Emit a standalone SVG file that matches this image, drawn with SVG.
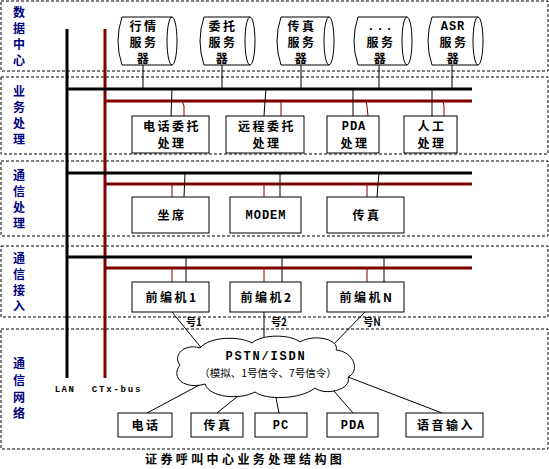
<svg xmlns="http://www.w3.org/2000/svg" width="549" height="469" viewBox="0 0 549 469">
<style>
.panel{fill:none;stroke:#000;stroke-width:1;stroke-dasharray:3 2}
.box{fill:#fff;stroke:#000;stroke-width:1}
.srv{fill:#fff;stroke:#000;stroke-width:1}
.t{font-family:"Noto Sans CJK SC","Liberation Sans",sans-serif;font-weight:bold;font-size:12px;fill:#000;text-anchor:middle;letter-spacing:2.5px}
.side{font-family:"Noto Sans CJK SC","Liberation Sans",sans-serif;font-weight:bold;font-size:12px;fill:#000080;text-anchor:middle}
.m{font-family:"Liberation Mono","Noto Sans CJK SC",monospace;font-weight:bold;font-size:12px;fill:#000;text-anchor:middle}
.s{font-family:"Noto Sans CJK SC","Liberation Sans",sans-serif;font-weight:bold;font-size:10px;fill:#000;text-anchor:middle}
.bk{stroke:#000;stroke-width:3;fill:none}
.rd{stroke:#800000;stroke-width:3;fill:none}
.th{stroke:#000;stroke-width:1;fill:none}
.tr{stroke:#800000;stroke-width:1;fill:none}
</style>

<g id="panels">
<rect class="panel" x="1" y="1" width="547" height="70"/>
<rect class="panel" x="1" y="77" width="547" height="77"/>
<rect class="panel" x="1" y="161" width="547" height="75"/>
<rect class="panel" x="1" y="246" width="547" height="71"/>
<rect class="panel" x="1" y="329" width="547" height="120"/>
</g>

<g id="side-labels">
<text class="side" x="19" y="17">数</text><text class="side" x="19" y="33">据</text><text class="side" x="19" y="49">中</text><text class="side" x="19" y="65">心</text>
<text class="side" x="19" y="96">业</text><text class="side" x="19" y="112">务</text><text class="side" x="19" y="128">处</text><text class="side" x="19" y="144">理</text>
<text class="side" x="19" y="180">通</text><text class="side" x="19" y="196">信</text><text class="side" x="19" y="212">处</text><text class="side" x="19" y="228">理</text>
<text class="side" x="19" y="263">通</text><text class="side" x="19" y="279">信</text><text class="side" x="19" y="295">接</text><text class="side" x="19" y="311">入</text>
<text class="side" x="19" y="368">通</text><text class="side" x="19" y="385">信</text><text class="side" x="19" y="402">网</text><text class="side" x="19" y="418">络</text>
</g>

<g id="connectors">
<line class="bk" x1="67" y1="29" x2="67" y2="378"/>
<line class="rd" x1="105" y1="29" x2="105" y2="378"/>
<line class="bk" x1="67" y1="89" x2="472" y2="89"/>
<line class="rd" x1="105" y1="101" x2="472" y2="101"/>
<line class="bk" x1="67" y1="173" x2="472" y2="173"/>
<line class="rd" x1="105" y1="184" x2="472" y2="184"/>
<line class="bk" x1="67" y1="257" x2="472" y2="257"/>
<line class="rd" x1="105" y1="268" x2="472" y2="268"/>
<line class="th" x1="143" y1="65" x2="143" y2="89"/>
<line class="th" x1="222" y1="65" x2="222" y2="89"/>
<line class="th" x1="301" y1="65" x2="301" y2="89"/>
<line class="th" x1="379" y1="65" x2="379" y2="89"/>
<line class="th" x1="452" y1="65" x2="452" y2="89"/>
<line class="th" x1="172" y1="89" x2="171" y2="116"/>
<polyline class="tr" points="182,101 184,106 184,116"/>
<polyline class="th" points="266,89 265,101 264,116"/>
<line class="tr" x1="281" y1="101" x2="281" y2="116"/>
<line class="th" x1="353" y1="89" x2="353" y2="116"/>
<polyline class="tr" points="366,101 367,106 368,116"/>
<line class="th" x1="432" y1="89" x2="432" y2="116"/>
<polyline class="tr" points="443,101 444,106 444,116"/>
<line class="th" x1="185" y1="173" x2="184" y2="197"/>
<line class="tr" x1="172" y1="184" x2="172" y2="197"/>
<line class="th" x1="280" y1="173" x2="280" y2="197"/>
<line class="tr" x1="264" y1="184" x2="264" y2="197"/>
<polyline class="th" points="379,173 378,184 377,197"/>
<line class="tr" x1="367" y1="184" x2="367" y2="197"/>
<line class="th" x1="186" y1="257" x2="186" y2="282"/>
<line class="tr" x1="172" y1="268" x2="172" y2="282"/>
<line class="th" x1="282" y1="257" x2="282" y2="282"/>
<line class="tr" x1="264" y1="268" x2="264" y2="282"/>
<line class="th" x1="384" y1="257" x2="384" y2="282"/>
<line class="tr" x1="367" y1="268" x2="367" y2="282"/>
<line class="th" x1="172" y1="312" x2="203" y2="350"/>
<line class="th" x1="264" y1="312" x2="264" y2="342"/>
<line class="th" x1="365" y1="312" x2="328" y2="350"/>
<line class="th" x1="205" y1="382" x2="147" y2="413"/>
<line class="th" x1="238" y1="396" x2="217" y2="413"/>
<line class="th" x1="275" y1="393" x2="279" y2="413"/>
<line class="th" x1="327" y1="383" x2="353" y2="413"/>
<line class="th" x1="348" y1="377" x2="442" y2="413"/>
</g>

<g id="bus-labels">
<text class="m" x="65" y="392" style="font-size:9px;letter-spacing:1.5px">LAN</text>
<text class="m" x="117" y="392" style="font-size:9px;letter-spacing:1.8px">CTx-bus</text>
</g>

<g id="server-hq">
<path class="srv" d="M122 17 H172 M172 65 H122 Q114 41 122 17"/>
<ellipse class="srv" cx="172" cy="41" rx="5" ry="24" style="fill:none"/>
<text class="t" x="144" y="31">行情</text><text class="t" x="144" y="47">服务</text><text class="t" x="144" y="63">器</text>
</g>
<g id="server-wt">
<path class="srv" d="M204 17 H250 M250 65 H204 Q196 41 204 17"/>
<ellipse class="srv" cx="250" cy="41" rx="5" ry="24" style="fill:none"/>
<text class="t" x="223" y="31">委托</text><text class="t" x="223" y="47">服务</text><text class="t" x="223" y="63">器</text>
</g>
<g id="server-cz">
<path class="srv" d="M281 17 H329 M329 65 H281 Q273 41 281 17"/>
<ellipse class="srv" cx="329" cy="41" rx="5" ry="24" style="fill:none"/>
<text class="t" x="302" y="31">传真</text><text class="t" x="302" y="47">服务</text><text class="t" x="302" y="63">器</text>
</g>
<g id="server-etc">
<path class="srv" d="M358 17 H407 M407 65 H358 Q350 41 358 17"/>
<ellipse class="srv" cx="407" cy="41" rx="5" ry="24" style="fill:none"/>
<text class="m" x="381" y="30" style="letter-spacing:2px">...</text><text class="t" x="381" y="47">服务</text><text class="t" x="381" y="63">器</text>
</g>
<g id="server-asr">
<path class="srv" d="M432 17 H478 M478 65 H432 Q424 41 432 17"/>
<ellipse class="srv" cx="478" cy="41" rx="5" ry="24" style="fill:none"/>
<text class="m" x="453" y="30" style="letter-spacing:1px">ASR</text><text class="t" x="454" y="47">服务</text><text class="t" x="454" y="63">器</text>
</g>

<g id="proc-phone"><rect class="box" x="132" y="116" width="77" height="37"/><text class="t" x="172" y="131">电话委托</text><text class="t" x="172" y="148">处理</text></g>
<g id="proc-remote"><rect class="box" x="226" y="116" width="78" height="37"/><text class="t" x="267" y="131">远程委托</text><text class="t" x="267" y="148">处理</text></g>
<g id="proc-pda"><rect class="box" x="327" y="116" width="52" height="37"/><text class="m" x="354" y="130" style="letter-spacing:1px">PDA</text><text class="t" x="355" y="148">处理</text></g>
<g id="proc-manual"><rect class="box" x="404" y="116" width="53" height="37"/><text class="t" x="432" y="131">人工</text><text class="t" x="432" y="148">处理</text></g>

<g id="comm-seat"><rect class="box" x="132" y="197" width="77" height="36"/><text class="t" x="172" y="220">坐席</text></g>
<g id="comm-modem"><rect class="box" x="230" y="197" width="71" height="36"/><text class="m" x="266" y="219" style="letter-spacing:1px">MODEM</text></g>
<g id="comm-fax"><rect class="box" x="327" y="197" width="77" height="36"/><text class="t" x="367" y="220">传真</text></g>

<g id="fep-1"><rect class="box" x="132" y="282" width="77" height="30"/><text class="t" x="172" y="302">前编机1</text></g>
<g id="fep-2"><rect class="box" x="230" y="282" width="71" height="30"/><text class="t" x="267" y="302">前编机2</text></g>
<g id="fep-n"><rect class="box" x="327" y="282" width="77" height="30"/><text class="t" x="367" y="302">前编机N</text></g>

<g id="line-labels">
<text class="s" x="194" y="326">号1</text>
<text class="s" x="279" y="326">号2</text>
<text class="s" x="372" y="326">号N</text>
</g>

<g id="cloud">
<path class="box" d="M180 365 C172 355 185 343 200 348 C210 336 240 336 252 343 C262 334 290 334 300 342 C315 333 340 340 336 350 C355 352 360 372 348 377 C352 390 325 396 315 388 C300 400 265 400 255 392 C240 400 210 398 205 384 C185 390 170 378 180 365 Z"/>
<text class="m" x="266" y="360" style="letter-spacing:1.8px">PSTN/ISDN</text>
<text x="268" y="377" style="font-family:'Noto Sans CJK SC','Liberation Sans',sans-serif;font-size:10.5px;text-anchor:middle;fill:#000">（模拟、1号信令、7号信令）</text>
</g>

<g id="term-phone"><rect class="box" x="118" y="413" width="54" height="24"/><text class="t" x="146" y="430">电话</text></g>
<g id="term-fax"><rect class="box" x="191" y="413" width="52" height="24"/><text class="t" x="218" y="430">传真</text></g>
<g id="term-pc"><rect class="box" x="255" y="413" width="52" height="24"/><text class="m" x="281" y="429" style="letter-spacing:1px">PC</text></g>
<g id="term-pda"><rect class="box" x="327" y="413" width="51" height="24"/><text class="m" x="353" y="429" style="letter-spacing:1px">PDA</text></g>
<g id="term-voice"><rect class="box" x="406" y="413" width="77" height="24"/><text class="t" x="446" y="430">语音输入</text></g>

<text x="145" y="464" style="font-family:'Noto Sans CJK SC','Liberation Sans',sans-serif;font-weight:bold;font-size:12px;letter-spacing:3.4px;fill:#000">证券呼叫中心业务处理结构图</text>
</svg>
